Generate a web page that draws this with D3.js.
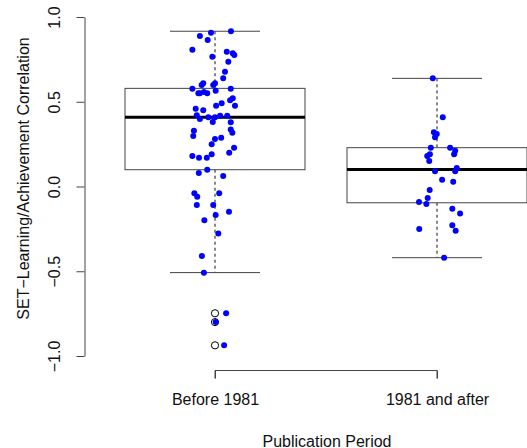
<!DOCTYPE html>
<html>

<head>
    <meta charset="utf-8">
    <style>
        body {
            margin: 0;
            background: white;
        }

        svg {
            display: block;
            font-family: 'Liberation Sans', Arial, sans-serif;
        }

        .axis text {
            font-size: 16px;
            fill: #111;
        }

        .axis path,
        .axis line {
            stroke: #444;
        }
    </style>
</head>

<body>
    <svg width="527" height="448"></svg>
</body>

<script src="https://d3js.org/d3.v7.min.js"></script>

<script>
    // categories and axis ticks
    const periods = ["Before 1981", "1981 and after"];
    const yTicks = [-1, -0.5, 0, 0.5, 1];

    // box statistics, one entry per period
    const whiskerLow = [-0.508, -0.420];
    const lowerQuartile = [0.099, -0.096];
    const medians = [0.408, 0.101];
    const upperQuartile = [0.579, 0.229];
    const whiskerHigh = [0.916, 0.638];
    const outliersBefore = [-0.748, -0.800, -0.937];

    // jittered study correlations, before 1981 (value, jittered category position)
    const beforeValues = [0.888, 0.907, 0.916, 0.864, 0.807, 0.766, 0.795, 0.786, 0.776, 0.736,
        0.677, 0.638, 0.609, 0.599, 0.609, 0.599, 0.577, 0.577, 0.565, 0.550,
        0.550, 0.558, 0.550, 0.520, 0.509, 0.491, 0.477, 0.477, 0.459, 0.450,
        0.420, 0.398, 0.408, 0.408, 0.418, 0.418, 0.381, 0.379, 0.337, 0.317,
        0.329, 0.298, 0.280, 0.288, 0.249, 0.229, 0.199, 0.180, 0.170, 0.170,
        0.190, 0.099, 0.080, 0.062, -0.040, -0.060, -0.040, -0.109, -0.109, -0.149,
        -0.168, -0.199, -0.278, -0.410, -0.509, -0.748, -0.799, -0.937];
    const beforeJitter = [0.932, 0.982, 1.072, 0.967, 0.898, 0.988, 1.053, 1.080, 1.087, 1.060,
        1.045, 1.037, 0.947, 0.940, 1.000, 0.992, 0.898, 1.071, 1.003, 0.925,
        0.932, 0.950, 0.965, 1.080, 1.068, 1.030, 1.005, 1.090, 0.913, 0.947,
        0.918, 0.932, 0.970, 1.000, 1.023, 1.055, 0.990, 1.071, 1.071, 1.078,
        0.905, 0.902, 1.000, 1.028, 0.985, 1.086, 1.064, 0.898, 0.928, 0.963,
        0.985, 0.965, 0.927, 1.037, 0.907, 0.920, 1.019, 0.918, 0.992, 1.063,
        1.003, 0.952, 1.015, 0.941, 0.950, 1.050, 1.003, 1.041];

    // 1981 and after
    const afterValues = [0.638, 0.408, 0.320, 0.310, 0.290, 0.229, 0.229, 0.211, 0.190, 0.190,
        0.180, 0.150, 0.090, 0.109, 0.090, 0.040, 0.028, -0.021, -0.068, -0.091,
        -0.103, -0.131, -0.160, -0.251, -0.229, -0.261, -0.420];
    const afterJitter = [1.981, 2.026, 1.986, 1.999, 1.991, 1.972, 2.059, 2.082, 2.077, 1.968,
        1.956, 1.965, 1.991, 2.089, 2.082, 2.023, 2.073, 1.967, 1.958, 1.919,
        1.952, 2.069, 2.104, 1.920, 2.069, 2.084, 2.032];

    let svg = d3.select("svg")

    let x = d3.scaleLinear()
        .domain([1, 2])
        .range([215, 437])

    let y = d3.scaleLinear()
        .domain([-1, 1])
        .range([356, 17])

    let boxHalf = 90
    let capHalf = 45

    // boxes
    let boxes = svg.selectAll(".box")
        .data(periods)
        .join("g")
        .attr("class", "box")

    boxes.append("line")
        .attr("x1", (d, i) => x(i + 1))
        .attr("x2", (d, i) => x(i + 1))
        .attr("y1", (d, i) => y(whiskerHigh[i]))
        .attr("y2", (d, i) => y(upperQuartile[i]))
        .style("stroke", "#111")
        .style("stroke-dasharray", "3,3")

    boxes.append("line")
        .attr("x1", (d, i) => x(i + 1))
        .attr("x2", (d, i) => x(i + 1))
        .attr("y1", (d, i) => y(lowerQuartile[i]))
        .attr("y2", (d, i) => y(whiskerLow[i]))
        .style("stroke", "#111")
        .style("stroke-dasharray", "3,3")

    boxes.append("line")
        .attr("x1", (d, i) => x(i + 1) - capHalf)
        .attr("x2", (d, i) => x(i + 1) + capHalf)
        .attr("y1", (d, i) => y(whiskerHigh[i]))
        .attr("y2", (d, i) => y(whiskerHigh[i]))
        .style("stroke", "#444")

    boxes.append("line")
        .attr("x1", (d, i) => x(i + 1) - capHalf)
        .attr("x2", (d, i) => x(i + 1) + capHalf)
        .attr("y1", (d, i) => y(whiskerLow[i]))
        .attr("y2", (d, i) => y(whiskerLow[i]))
        .style("stroke", "#444")

    boxes.append("rect")
        .attr("x", (d, i) => x(i + 1) - boxHalf)
        .attr("width", boxHalf * 2)
        .attr("y", (d, i) => y(upperQuartile[i]))
        .attr("height", (d, i) => y(lowerQuartile[i]) - y(upperQuartile[i]))
        .style("fill", "none")
        .style("stroke", "#444")

    boxes.append("line")
        .attr("x1", (d, i) => x(i + 1) - boxHalf)
        .attr("x2", (d, i) => x(i + 1) + boxHalf)
        .attr("y1", (d, i) => y(medians[i]))
        .attr("y2", (d, i) => y(medians[i]))
        .style("stroke", "black")
        .style("stroke-width", 3)

    // outliers, drawn at the box centre
    svg.selectAll(".outlier")
        .data(outliersBefore)
        .join("circle")
        .attr("class", "outlier")
        .attr("cx", x(1))
        .attr("cy", d => y(d))
        .attr("r", 3.6)
        .style("fill", "none")
        .style("stroke", "black")
        .style("stroke-width", 1)

    // jittered points
    let pts = beforeValues.map((v, i) => [beforeJitter[i], v])
        .concat(afterValues.map((v, i) => [afterJitter[i], v]))

    svg.selectAll(".pt")
        .data(pts)
        .join("circle")
        .attr("class", "pt")
        .attr("cx", d => x(d[0]))
        .attr("cy", d => y(d[1]))
        .attr("r", 3)
        .style("fill", "#0000ff")

    // axes
    let yAxis = svg.append("g")
        .attr("class", "axis")
        .attr("transform", "translate(84.5,0)")
        .call(d3.axisLeft(y).tickValues(yTicks).tickFormat(d3.format(".1f")).tickSize(8).tickSizeOuter(0))

    yAxis.selectAll("text")
        .attr("x", 0)
        .attr("y", -24.5)
        .attr("dy", 0)
        .attr("transform", "rotate(-90)")
        .attr("text-anchor", "middle")

    let xAxis = svg.append("g")
        .attr("class", "axis")
        .attr("transform", "translate(0,370.5)")
        .call(d3.axisBottom(x).tickValues([1, 2]).tickFormat((d, i) => periods[i]).tickSize(8).tickSizeOuter(0))

    xAxis.selectAll("text")
        .attr("y", 34.5)
        .attr("dy", 0)

    xAxis.select(".domain").attr("d", "M" + x(1) + ",8V0H" + x(2) + "V8")

    // axis titles
    svg.append("text")
        .attr("x", 327)
        .attr("y", 446.5)
        .attr("text-anchor", "middle")
        .style("font-size", "16px")
        .style("fill", "#111")
        .text("Publication Period")

    svg.append("text")
        .attr("transform", "translate(28.5,178.5) rotate(-90)")
        .attr("text-anchor", "middle")
        .style("font-size", "16px")
        .style("fill", "#111")
        .text("SET\u2212Learning/Achievement Correlation")

</script>

</html>
